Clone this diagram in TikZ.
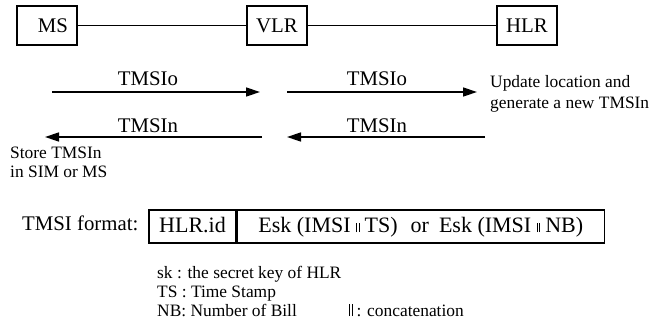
\documentclass[tikz,border=0pt]{standalone}
\usepackage{fontspec}
\setmainfont{Liberation Serif}
\usetikzlibrary{arrows.meta}

% small double bar used for concatenation
\newcommand{\catbar}[1]{\rule{0.6pt}{#1}\hspace{1.8pt}\rule{0.6pt}{#1}}

\begin{document}
\begin{tikzpicture}[x=1pt,y=-1pt,
  entity/.style={draw, line width=1.1pt, minimum width=60pt, minimum height=39pt,
    inner sep=0pt, font=\fontsize{20.8}{24}\selectfont},
  link/.style={line width=1.2pt},
  msg/.style={line width=1.5pt, -{Triangle[length=14pt,width=9pt]}},
  biglabel/.style={font=\fontsize{20.8}{24}\selectfont, inner sep=0pt, anchor=base},
  note/.style={font=\fontsize{17.4}{19}\selectfont, inner sep=0pt, anchor=base west},
  cell/.style={draw, line width=1.3pt, minimum height=33pt, inner sep=0pt,
    text height=15pt, text depth=4pt, font=\fontsize{22}{26}\selectfont},
]
\useasboundingbox (0,0) rectangle (662,325);

% network entities
\node[entity] (ms)  at (47,25.5)  {\hspace{12pt}MS};
\node[entity] (vlr) at (277,25.5) {VLR};
\node[entity] (hlr) at (527,25.5) {HLR};
\draw[link] (ms) -- (vlr);
\draw[link] (vlr) -- (hlr);

% message end points
\coordinate (o1s) at (52,92);
\coordinate (o1e) at (260,92);
\coordinate (o2s) at (287,92);
\coordinate (o2e) at (477,92);
\coordinate (n2s) at (485,137);
\coordinate (n2e) at (287,137);
\coordinate (n1s) at (262,137);
\coordinate (n1e) at (45,137);

% old TMSI towards the HLR
\draw[msg] (o1s) -- (o1e);
\draw[msg] (o2s) -- (o2e);
\node[biglabel] (lo1) at (148,85.5) {TMSIo};
\node[biglabel] (lo2) at (377,85.5) {TMSIo};

% new TMSI back to the MS
\draw[msg] (n2s) -- (n2e);
\draw[msg] (n1s) -- (n1e);
\node[biglabel] (ln1) at (148,132) {TMSIn};
\node[biglabel] (ln2) at (377,132) {TMSIn};

% side notes
\node[note] (upd1) at (490,87)  {Update location and};
\node[note] (upd2) at (490,108) {generate a new TMSIn};
\node[note] (sto1) at (10,158.5) {Store TMSIn};
\node[note] (sto2) at (10,177)  {in SIM or MS};

% TMSI format
\node[biglabel, anchor=base west] (fmt) at (22,230) {TMSI format:};
\node[cell, minimum width=87pt] (fid) at (192.5,226.5) {HLR.id};
\node[cell, minimum width=367pt, anchor=west] (fesk) at (fid.east)
  {Esk (IMSI \catbar{9pt} TS)\hspace{13pt}or\hspace{10pt}Esk (IMSI \catbar{9pt} NB)};

% legend
\node[note] (lg1) at (157,278) {sk : the secret key of HLR};
\node[note] (lg2) at (157,297) {TS : Time Stamp};
\node[note] (lg3) at (157,316) {NB: Number of Bill};
\node[note] (lg4) at (349,316) {\catbar{12pt} : concatenation};
\end{tikzpicture}
\end{document}
